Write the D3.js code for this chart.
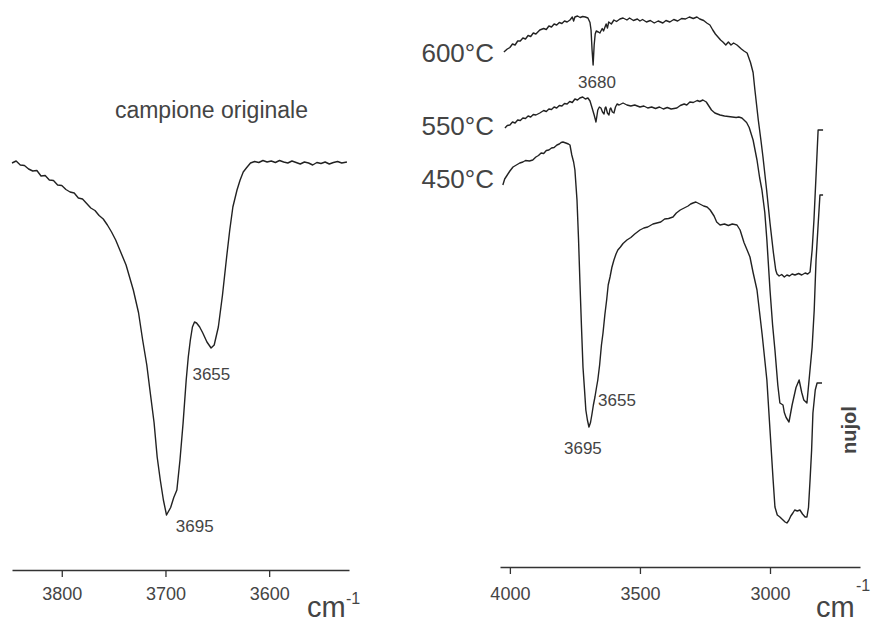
<!DOCTYPE html>
<html>
<head>
<meta charset="utf-8">
<script src="https://cdn.jsdelivr.net/npm/d3@7"></script>
<style>
  body { margin: 0; background: #fff; }
  svg text { font-family: "Liberation Sans", Arial, sans-serif; fill: #444; }
</style>
</head>
<body>
<div id="chart"></div>
<script>
// IR spectra, transmittance in arbitrary units vs wavenumber (cm-1)

// left panel: original sample
var campione = [
  [3848,79.4],[3844,79.8],[3840,79.0],[3836,78.9],[3832,78.2],[3828,77.8],[3824,77.9],[3820,76.8],
  [3816,76.9],[3812,76.0],[3808,75.9],[3804,75.0],[3800,74.9],[3796,74.1],[3792,73.6],[3788,73.4],
  [3784,72.4],[3780,72.2],[3776,71.3],[3772,70.4],[3768,69.9],[3764,68.9],[3760,68.2],[3756,67.0],
  [3752,65.6],[3748,64.0],[3744,62.0],[3738,59.0],[3731,54],[3726,49.5],[3722,44],[3718,39],
  [3715,34],[3711,27.5],[3708,20.6],[3705,16],[3702,12],[3699,9],[3695,10.5],[3692,12.5],
  [3689,14],[3686,20],[3683,27.4],[3680,36],[3678,40.6],[3676,44],[3674,46.6],[3672,47.6],
  [3670,47.4],[3667,46.6],[3664,45.4],[3660,43.6],[3656,42.4],[3653,43],[3649,46.6],[3645,53],
  [3641,60.6],[3638,66],[3635,70.6],[3631,74],[3628,76],[3625,77.6],[3622,78.4],[3618,79.4],
  [3614,79.7],[3610,79.5],[3606,79.9],[3602,79.6],[3598,79.8],[3594,79.5],[3590,79.9],[3586,79.6],
  [3582,79.4],[3578,79.8],[3574,79.5],[3570,79.2],[3566,79.6],[3562,79.4],[3558,79.0],[3554,79.5],
  [3550,79.3],[3546,79.6],[3542,79.2],[3538,79.5],[3534,79.7],[3530,79.4],[3525,79.6]
];

// right panel: heated samples
var s600 = [
  [4023,101.6],[4010,102.2],[4000,102.5],[3990,103.2],[3980,103.0],[3970,103.8],[3960,103.8],[3950,104.4],
  [3940,104.2],[3930,104.9],[3920,104.7],[3910,105.4],[3900,105.2],[3885,106.0],[3870,106.3],[3860,106.1],
  [3850,106.8],[3840,106.6],[3830,107.2],[3820,107.0],[3810,107.5],[3800,107.3],[3790,107.8],[3780,107.6],
  [3769,108.0],[3760,108.6],[3755,107.8],[3750,108.6],[3740,108.8],[3730,108.5],[3720,108.7],[3710,108.6],
  [3700,108.4],[3692,107.5],[3688,106],[3684,102],[3680,99],[3676,103],[3672,105.2],[3668,105.8],
  [3660,105.6],[3654,105.4],[3645,106.3],[3640,105.8],[3630,107.2],[3625,106.4],[3620,107.6],[3610,107.2],
  [3600,108.0],[3590,107.7],[3577,108.2],[3565,108.4],[3550,108.0],[3540,108.4],[3525,107.9],[3510,108.2],
  [3500,107.8],[3490,108.1],[3475,107.6],[3460,107.9],[3445,107.4],[3430,107.8],[3412,107.4],[3400,107.9],
  [3385,107.6],[3370,108.1],[3355,107.8],[3340,108.3],[3325,108.2],[3310,108.6],[3295,108.3],[3281,108.6],
  [3270,108.2],[3255,107.9],[3243,107.4],[3231,107.0],[3220,106.0],[3210,105.2],[3200,104.6],[3190,104.0],
  [3181,103.6],[3170,103.0],[3160,103.6],[3150,103.0],[3140,103.4],[3127,103.0],[3110,102.2],[3100,101.8],
  [3088,101.4],[3075,99.5],[3065,97.5],[3058,94],[3045,88],[3035,84],[3027,80.6],[3013,74],
  [3000,67.4],[2987,61.5],[2978,58.0],[2973,57.2],[2965,56.8],[2955,57.1],[2945,56.6],[2935,57.0],
  [2925,56.8],[2915,57.2],[2904,57.0],[2890,57.3],[2878,57.0],[2865,57.4],[2855,57.2],[2846,57.6],
  [2838,62],[2831,68],[2822,78],[2815,86],[2796,86]
];

var s550 = [
  [4019,86.4],[4010,86.9],[4000,87.0],[3990,87.6],[3980,87.4],[3970,88.0],[3960,87.9],[3950,88.4],
  [3940,88.3],[3930,88.8],[3920,88.6],[3910,89.1],[3900,89.0],[3885,89.4],[3870,89.9],[3860,89.7],
  [3850,90.2],[3840,90.1],[3830,90.6],[3820,90.4],[3810,90.9],[3800,90.8],[3790,91.3],[3780,91.2],
  [3770,91.7],[3760,91.5],[3750,92.2],[3740,92.0],[3731,92.4],[3720,92.6],[3710,92.2],[3700,92.4],
  [3692,91.8],[3685,90.6],[3676,89],[3669,87.6],[3662,90],[3656,90.6],[3650,90.4],[3644,89.6],
  [3638,89.2],[3634,90.4],[3631,90.6],[3625,89.4],[3619,89.0],[3615,90.2],[3612,90.4],[3606,89.6],
  [3600,89.4],[3594,90.6],[3588,91.2],[3580,91.0],[3565,91.4],[3550,91.0],[3535,90.8],[3520,91.0],
  [3500,90.6],[3485,90.8],[3470,90.4],[3455,90.6],[3440,90.3],[3425,90.6],[3410,90.2],[3395,90.5],
  [3380,90.2],[3358,90.4],[3345,90.9],[3330,91.2],[3320,91.0],[3308,91.6],[3295,91.5],[3280,91.9],
  [3270,91.7],[3258,92.0],[3245,91.6],[3235,90.8],[3225,90.0],[3212,89.4],[3192,89.0],[3175,88.8],
  [3160,88.7],[3145,88.6],[3130,88.5],[3120,88.6],[3108,88.4],[3090,87.5],[3080,86.5],[3065,84],
  [3050,80],[3040,76.5],[3031,74],[3020,69.5],[3012,64],[3000,54],[2990,47],[2981,42],
  [2970,35],[2962,31.4],[2950,31],[2945,29.5],[2938,28.5],[2927,27.6],[2915,31],[2900,34.5],
  [2888,36],[2878,33.5],[2870,32],[2858,31.4],[2848,37],[2838,42.6],[2830,50],[2823,60],
  [2815,67],[2808,73],[2796,73]
];

var s450 = [
  [4027,75],[4020,76.2],[4010,77.0],[4000,77.8],[3988,78.6],[3975,79.0],[3962,79.4],[3950,79.6],
  [3940,79.9],[3925,79.8],[3912,80.0],[3900,80.6],[3890,80.9],[3880,81.4],[3870,81.3],[3860,81.9],
  [3850,82.0],[3840,82.4],[3830,82.5],[3819,83.0],[3810,83.2],[3803,83.5],[3796,83.6],[3785,83.4],
  [3775,83.2],[3769,83.0],[3762,81],[3755,79.6],[3750,78],[3742,72],[3736,64],[3731,56],
  [3725,47],[3719,38.6],[3713,34],[3708,30],[3702,28],[3696,26.6],[3690,27.5],[3685,29],
  [3679,31],[3673,32.6],[3667,34.5],[3662,36],[3655,39],[3648,43],[3642,45.4],[3635,49],
  [3628,52],[3622,55],[3615,56.6],[3608,58.5],[3600,60],[3592,61.2],[3585,62],[3575,62.6],
  [3565,63.3],[3550,64],[3535,64.5],[3520,65.2],[3500,66],[3485,66.4],[3470,66.6],[3450,67.2],
  [3435,67.4],[3420,67.6],[3405,68.2],[3390,68.3],[3373,68.6],[3360,69.4],[3345,70.0],[3330,70.4],
  [3315,70.8],[3305,71.2],[3296,71.4],[3285,71.6],[3270,71.2],[3255,70.8],[3242,70.6],[3230,70.0],
  [3215,68.8],[3205,67.6],[3192,67.0],[3175,67.2],[3160,66.9],[3145,67.2],[3127,67.0],[3115,66],
  [3100,63.5],[3088,62],[3077,60.6],[3065,57.5],[3050,54],[3030,45],[3012,36],[3000,26],
  [2988,16],[2981,10.6],[2972,9.0],[2962,8.6],[2950,8.0],[2942,7.6],[2935,7.4],[2928,7.9],
  [2920,8.8],[2912,9.4],[2905,10.0],[2895,9.8],[2885,10.0],[2875,9.2],[2865,8.6],[2858,8.6],
  [2852,10.5],[2846,16],[2840,22],[2835,29.4],[2826,34],[2819,35.4],[2800,35.4]
];

var ticksLeft = [3800, 3700, 3600];
var ticksRight = [4000, 3500, 3000];
var seriesNames = ["600°C", "550°C", "450°C"];
// peak annotations: [label, wavenumber, level]
var peaksLeft = [["3655", 3674, 36], ["3695", 3690, 5.6]];
var peaksRight = [["3680", 3665, 94.4], ["3655", 3661, 30.8], ["3695", 3792, 21.2]];

var svg = d3.select("#chart")
  .append("svg")
    .attr("width", 874)
    .attr("height", 624);

var xL = d3.scaleLinear().domain([3848, 3523]).range([12, 349]);
var xR = d3.scaleLinear().domain([4038, 2654]).range([500, 860]);
var y = d3.scaleLinear().domain([0, 100]).range([560, 60]);

function drawAxis(scale, ticks, ypos, pad) {
  var g = svg.append("g")
      .attr("transform", "translate(0," + ypos + ")")
      .call(d3.axisBottom(scale).tickValues(ticks).tickSize(7).tickSizeOuter(0).tickPadding(pad).tickFormat(d3.format("d")));
  g.select(".domain").attr("stroke", "#333").attr("stroke-width", 1.3);
  g.selectAll(".tick line").attr("stroke", "#333").attr("stroke-width", 1.3);
  g.selectAll(".tick text")
    .style("font-family", "'Liberation Sans', Arial, sans-serif")
    .style("font-size", "18px")
    .attr("fill", "#444");
  return g;
}
drawAxis(xL, ticksLeft, 570, 10);
drawAxis(xR, ticksRight, 567, 13);

function lineFor(xs) {
  return d3.line()
    .x(function(d) { return xs(d[0]); })
    .y(function(d) { return y(d[1]); });
}

function drawSpectrum(data, xs) {
  svg.append("path")
    .datum(data)
    .attr("fill", "none")
    .attr("stroke", "#222")
    .attr("stroke-width", 1.4)
    .attr("stroke-linejoin", "round")
    .attr("d", lineFor(xs));
}

drawSpectrum(campione, xL);
drawSpectrum(s600, xR);
drawSpectrum(s550, xR);
drawSpectrum(s450, xR);

// peak labels
peaksLeft.forEach(function(p) {
  svg.append("text")
    .attr("x", xL(p[1]))
    .attr("y", y(p[2]))
    .style("font-size", "17px")
    .text(p[0]);
});
peaksRight.forEach(function(p, i) {
  svg.append("text")
    .attr("x", xR(p[1]))
    .attr("y", y(p[2]))
    .attr("text-anchor", i == 0 ? "middle" : "start")
    .style("font-size", "17px")
    .text(p[0]);
});

// temperature labels next to the start of each trace
var tempY = [62, 135, 188];
seriesNames.forEach(function(s, i) {
  svg.append("text")
    .attr("x", 494)
    .attr("y", tempY[i])
    .attr("text-anchor", "end")
    .style("font-size", "26px")
    .text(s);
});

svg.append("text")
  .attr("x", 308)
  .attr("y", 118)
  .attr("text-anchor", "end")
  .style("font-size", "23px")
  .text("campione originale");

svg.append("text")
  .attr("transform", "translate(856,430) rotate(-90)")
  .attr("text-anchor", "middle")
  .style("font-size", "20px")
  .style("font-weight", "bold")
  .text("nujol");

// units
svg.append("text").attr("x", 307).attr("y", 617).style("font-size", "29px").text("cm");
svg.append("text").attr("x", 346).attr("y", 604).style("font-size", "16px").text("-1");
svg.append("text").attr("x", 816).attr("y", 617).style("font-size", "29px").text("cm");
svg.append("text").attr("x", 856).attr("y", 591).style("font-size", "16px").text("-1");
</script>
</body>
</html>
